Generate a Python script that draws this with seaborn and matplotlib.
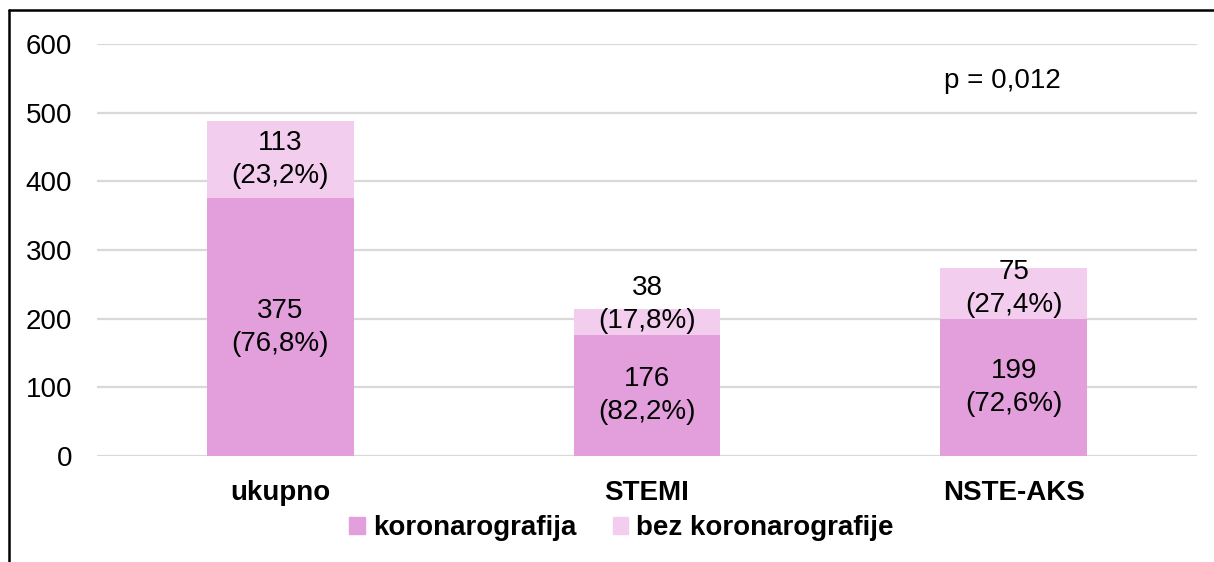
import pandas as pd
import matplotlib.pyplot as plt
import seaborn as sns
from matplotlib.patches import Patch
from matplotlib.lines import Line2D

sns.set_style("white")
plt.rcParams["font.family"] = ["Liberation Sans", "DejaVu Sans"]
plt.rcParams["text.color"] = "black"
plt.rcParams["xtick.color"] = "black"
plt.rcParams["ytick.color"] = "black"

# data
categories = ["ukupno", "STEMI", "NSTE-AKS"]
koronarografija = [375, 176, 199]
bez_koronarografije = [113, 38, 75]
pct_kor = ["76,8%", "82,2%", "72,6%"]
pct_bez = ["23,2%", "17,8%", "27,4%"]
y_ticks = [0, 100, 200, 300, 400, 500, 600]

c_dark = "#E39EDC"
c_light = "#F2CDEE"

df = pd.DataFrame({
    "cat": categories,
    "kor": koronarografija,
    "bez": bez_koronarografije,
})
df["total"] = df["kor"] + df["bez"]

fig = plt.figure(figsize=(12.14, 5.62), dpi=100)
ax = fig.add_axes([97 / 1214, 1 - 456 / 562, 1100 / 1214, 412 / 562])

sns.barplot(data=df, x="cat", y="total", color=c_light, width=0.4,
            saturation=1, linewidth=0, ax=ax)
sns.barplot(data=df, x="cat", y="kor", color=c_dark, width=0.4,
            saturation=1, linewidth=0, ax=ax)

ax.set_ylim(0, 600)
ax.set_yticks(y_ticks)
ax.set_xlim(-0.5, 2.5)
ax.yaxis.grid(True, color="#D9D9D9", linewidth=1.6)
ax.set_axisbelow(True)
for s in ax.spines.values():
    s.set_visible(False)
ax.tick_params(axis="both", length=0, labelsize=20)
ax.tick_params(axis="y", pad=18)
ax.tick_params(axis="x", pad=17)
for lab in ax.get_xticklabels():
    lab.set_fontweight("bold")
ax.set_xlabel("")
ax.set_ylabel("")

# segment labels (upper label kept clear of the lower one when segment is small)
for i in range(len(categories)):
    k = koronarografija[i]
    b = bez_koronarografije[i]
    ax.text(i, k / 2, f"{k}\n({pct_kor[i]})", ha="center", va="center",
            fontsize=20, linespacing=1.35)
    ax.text(i, max(k + b / 2, k + 45), f"{b}\n({pct_bez[i]})", ha="center",
            va="center", fontsize=20, linespacing=1.35)

ax.text(0.823, 0.91, "p = 0,012", transform=ax.transAxes, ha="center",
        va="center", fontsize=20)

handles = [Patch(color=c_dark, label="koronarografija"),
           Patch(color=c_light, label="bez koronarografije")]
fig.legend(handles=handles, loc="center", bbox_to_anchor=(0.512, 1 - 528 / 562),
           ncol=2, frameon=False, prop={"size": 20, "weight": "bold"},
           handlelength=0.55, handleheight=0.55, handletextpad=0.3,
           columnspacing=1.3)

# outer frame (left and top edges)
fig.add_artist(Line2D([8.5 / 1214, 8.5 / 1214], [0, 1 - 9.5 / 562],
                      transform=fig.transFigure, color="black", linewidth=1.8))
fig.add_artist(Line2D([8.5 / 1214, 1], [1 - 9.5 / 562, 1 - 9.5 / 562],
                      transform=fig.transFigure, color="black", linewidth=1.8))

fig.savefig("out.png", dpi=100)
